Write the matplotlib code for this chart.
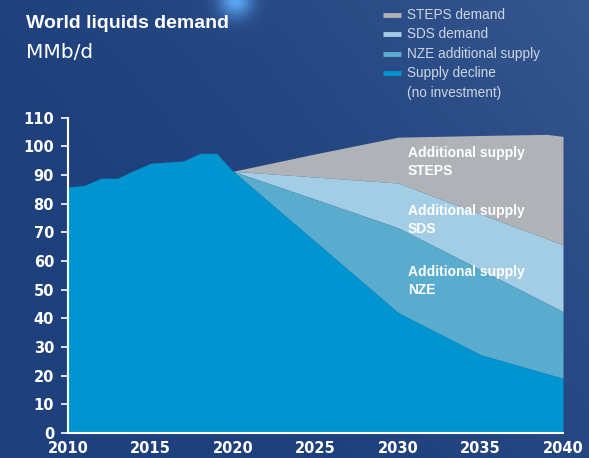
import numpy as np
import matplotlib
matplotlib.use("Agg")
import matplotlib.pyplot as plt

# historical demand (MMb/d)
hist_years = [2010, 2011, 2012, 2013, 2014, 2015, 2016, 2017, 2018, 2019, 2020]
hist_demand = [85.8, 86.4, 88.9, 88.9, 91.6, 94.1, 94.5, 94.9, 97.6, 97.6, 91.3]

# projections
proj_years = [2020, 2025, 2030, 2035, 2039, 2040]
supply_decline = [91.3, 66.7, 42.0, 27.3, 20.7, 19.1]
nze_top = [91.3, 81.5, 71.6, 57.0, 45.3, 42.3]
sds_top = [91.3, 89.3, 87.2, 76.4, 67.8, 65.6]
steps_top = [91.3, 97.4, 103.2, 103.8, 104.2, 103.5]

legend_labels = ["STEPS demand", "SDS demand", "NZE additional supply",
                 "Supply decline", "(no investment)"]
yticks = list(range(0, 111, 10))
xticks = [2010, 2015, 2020, 2025, 2030, 2035, 2040]

c_decline = "#0094d0"
c_nze = "#5aaccf"
c_sds = "#a3cde4"
c_steps = "#afb2b6"
c_text = "#ffffff"
c_legend = "#cdd6e4"

W, H = 589, 458
fig = plt.figure(figsize=(W / 100, H / 100), dpi=100)

# background gradient
bg = fig.add_axes([0, 0, 1, 1])
yy, xx = np.mgrid[0:1:H * 1j, 0:1:W * 1j]
base = np.array([30, 64, 124]) / 255.0
light = np.array([76, 108, 160]) / 255.0
t = np.clip(0.55 * xx + 0.35 * (1 - yy) - 0.25, 0, 1) ** 1.5
img = base[None, None, :] * (1 - t[..., None]) + light[None, None, :] * t[..., None]
glow = np.exp(-(((xx - 0.40) * W) ** 2 + ((yy - 0.0) * H) ** 2) / (2 * 12 ** 2))
img = img * (1 - glow[..., None]) + np.array([0.35, 0.65, 0.95]) * glow[..., None]
bg.imshow(img, aspect="auto", extent=[0, 1, 0, 1], origin="upper")
bg.axis("off")

ax = fig.add_axes([68 / W, 25 / H, 495 / W, 315.3 / H])
ax.patch.set_alpha(0)

decline_years = hist_years + proj_years[1:]
decline_vals = hist_demand + supply_decline[1:]

ax.fill_between(proj_years, sds_top, steps_top, color=c_steps, lw=0)
ax.fill_between(proj_years, nze_top, sds_top, color=c_sds, lw=0)
ax.fill_between(proj_years, supply_decline, nze_top, color=c_nze, lw=0)
ax.fill_between(decline_years, 0, decline_vals, color=c_decline, lw=0)

ax.set_xlim(2010, 2040)
ax.set_ylim(0, 110)
ax.set_yticks(yticks)
ax.set_xticks(xticks)
for s in ["top", "right"]:
    ax.spines[s].set_visible(False)
for s in ["left", "bottom"]:
    ax.spines[s].set_color("white")
    ax.spines[s].set_linewidth(1.5)
    ax.spines[s].set_zorder(5)
ax.tick_params(axis="y", colors="white", length=5, width=1.2, pad=5,
               labelsize=10.5)
ax.tick_params(axis="x", colors="white", length=0, pad=6, labelsize=10.5)
for lab in ax.get_xticklabels() + ax.get_yticklabels():
    lab.set_fontweight("bold")
    lab.set_color("white")

# area labels
for txt, y in [("Additional supply\nSTEPS", 100), ("Additional supply\nSDS", 80),
               ("Additional supply\nNZE", 58.5)]:
    ax.text(2030.6, y, txt, color="white", fontsize=10, fontweight="bold",
            family="Liberation Sans", va="top", ha="left", linespacing=1.35)

# title
fig.text(26 / W, 1 - 24 / H, "World liquids demand", color=c_text, fontsize=14,
         fontweight="bold", family="Liberation Sans", va="center", ha="left")
fig.text(26 / W, 1 - 52 / H, "MMb/d", color=c_text, fontsize=14.5,
         va="center", ha="left")

# legend
leg_colors = [c_steps, c_sds, c_nze, c_decline, None]
leg_y = [15, 34, 54, 73, 93]
for col, lab, y in zip(leg_colors, legend_labels, leg_y):
    if col is not None:
        fig.add_artist(plt.Line2D([383 / W, 401 / W], [1 - y / H, 1 - y / H],
                                  color=col, lw=3.5, solid_capstyle="butt"))
    fig.text(407 / W, 1 - y / H, lab, color=c_legend, fontsize=9.8,
             family="Liberation Sans", va="center", ha="left")

fig.savefig("out.png", dpi=100)
